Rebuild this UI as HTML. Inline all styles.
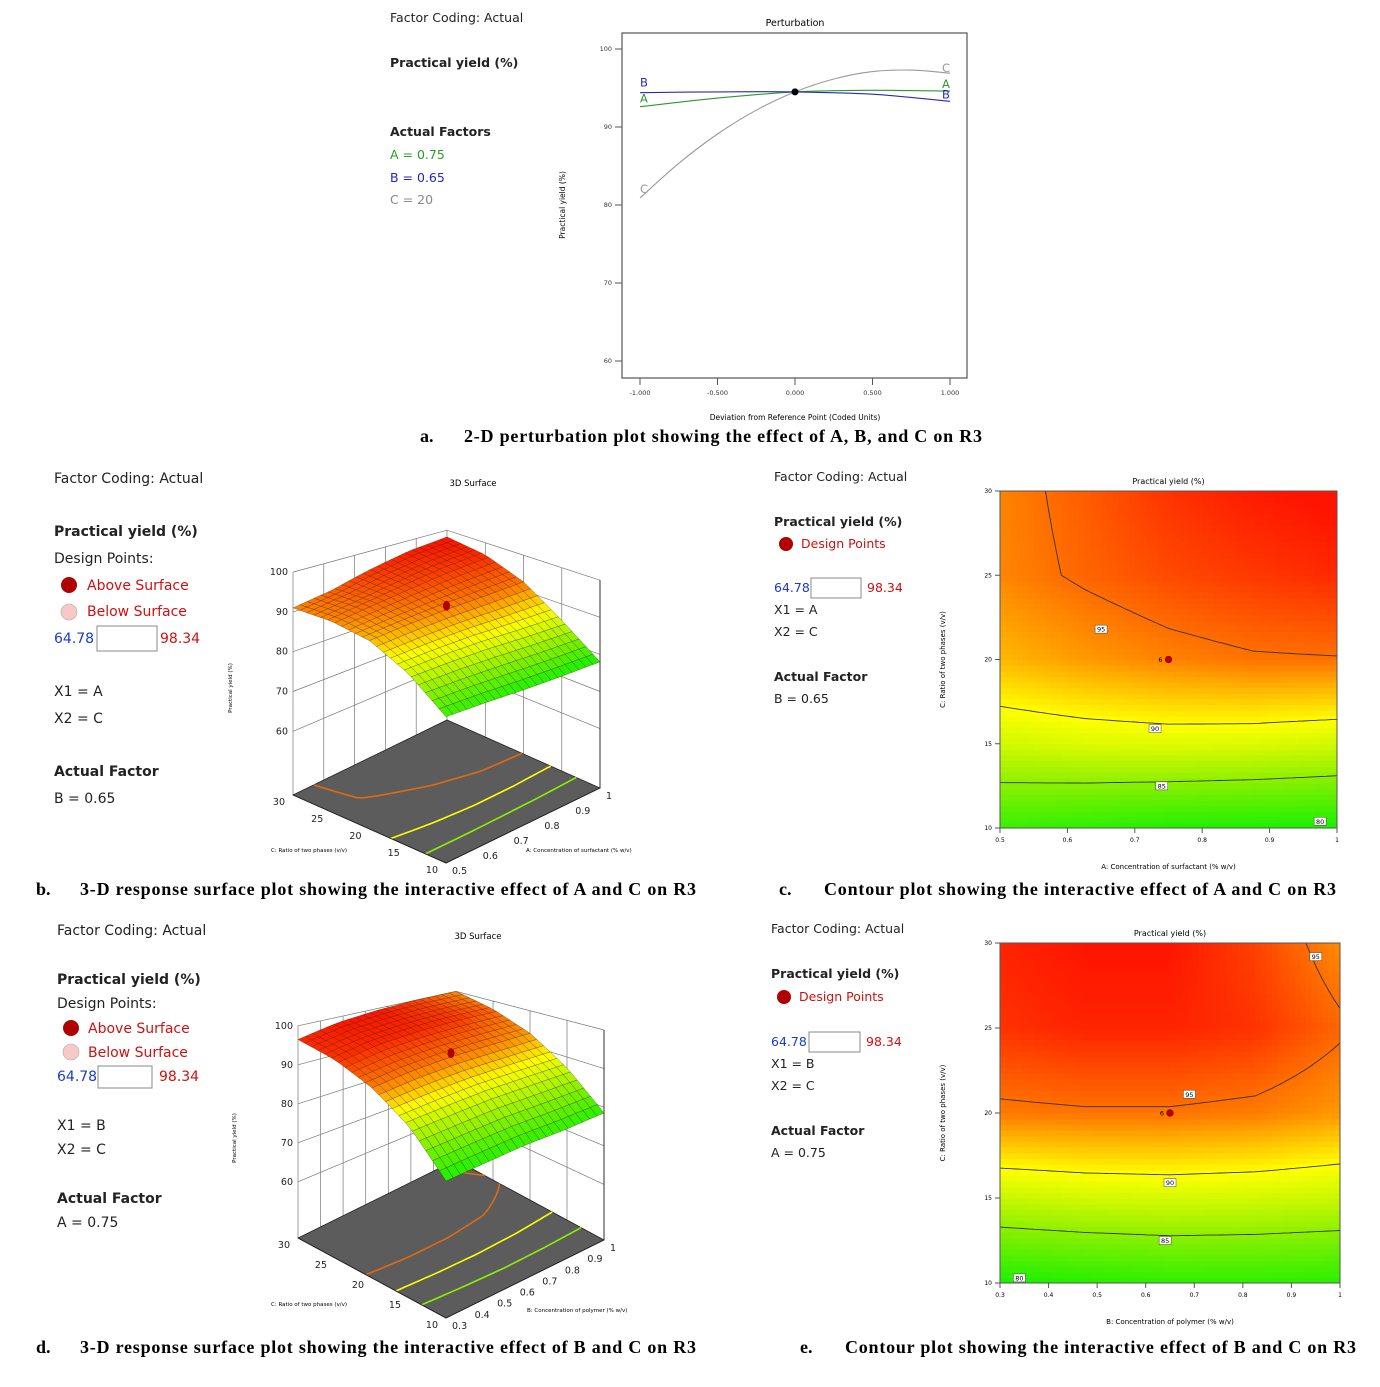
<!DOCTYPE html>
<html><head><meta charset="utf-8"><style>
html,body{margin:0;padding:0;background:#fff;}
svg{display:block;font-family:"DejaVu Sans","Liberation Sans",sans-serif;}
.cap{font-family:"Liberation Serif",serif;font-weight:bold;font-size:18px;}
.t{font-size:14px;fill:#222;}
.ts{font-size:12.5px;fill:#222;}
.b{font-weight:bold;}
.tiny{font-size:6.5px;fill:#333;}
.tk{font-size:9.5px;fill:#222;}
</style></head><body>
<svg id="fig" width="1380" height="1387" viewBox="0 0 1380 1387" xmlns="http://www.w3.org/2000/svg">
<g class="ts">
<text x="390" y="22">Factor Coding: Actual</text>
<text x="390" y="67" class="b">Practical yield (%)</text>
<text x="390" y="136" class="b">Actual Factors</text>
<text x="390" y="159" style="fill:#22a022">A = 0.75</text>
<text x="390" y="182" style="fill:#2525c0">B = 0.65</text>
<text x="390" y="204" style="fill:#888">C = 20</text>
</g>
<g id="pert"></g>
<text x="420" y="442" class="cap">a.</text>
<text x="464" y="442" class="cap" textLength="518">2-D perturbation plot showing the effect of A, B, and C on R3</text>

<g class="t">
<text x="54" y="483">Factor Coding: Actual</text>
<text x="54" y="536" class="b">Practical yield (%)</text>
<text x="54" y="563">Design Points:</text>
<circle cx="69" cy="585" r="8" fill="#b00000"/>
<text x="87" y="590" style="fill:#d01010">Above Surface</text>
<circle cx="69" cy="612" r="8" fill="#f8c8c8" stroke="#aaa" stroke-width="0.6"/>
<text x="87" y="616" style="fill:#d01010">Below Surface</text>
<text x="54" y="643" style="fill:#1a3ad0">64.78</text>
<rect x="97" y="626" width="60" height="25" fill="#fff" stroke="#888"/>
<text x="160" y="643" style="fill:#d01010">98.34</text>
<text x="54" y="696">X1 = A</text>
<text x="54" y="723">X2 = C</text>
<text x="54" y="776" class="b">Actual Factor</text>
<text x="54" y="803">B = 0.65</text>
</g>
<g id="s3db"></g>
<text x="36" y="895" class="cap">b.</text>
<text x="80" y="895" class="cap" textLength="616">3-D response surface plot showing the interactive effect of A and C on R3</text>

<g class="ts">
<text x="774" y="481">Factor Coding: Actual</text>
<text x="774" y="526" class="b">Practical yield (%)</text>
<circle cx="786" cy="544" r="7" fill="#b00000"/>
<text x="801" y="548" style="fill:#d01010">Design Points</text>
<text x="774" y="592" style="fill:#1a3ad0">64.78</text>
<rect x="811" y="578" width="50" height="20" fill="#fff" stroke="#888"/>
<text x="867" y="592" style="fill:#d01010">98.34</text>
<text x="774" y="614">X1 = A</text>
<text x="774" y="636">X2 = C</text>
<text x="774" y="681" class="b">Actual Factor</text>
<text x="774" y="703">B = 0.65</text>
</g>
<g id="contc"></g>
<text x="779" y="895" class="cap">c.</text>
<text x="824" y="895" class="cap" textLength="512">Contour plot showing the interactive effect of A and C on R3</text>

<g class="t">
<text x="57" y="935">Factor Coding: Actual</text>
<text x="57" y="984" class="b">Practical yield (%)</text>
<text x="57" y="1008">Design Points:</text>
<circle cx="71" cy="1028" r="8" fill="#b00000"/>
<text x="88" y="1033" style="fill:#d01010">Above Surface</text>
<circle cx="71" cy="1052" r="8" fill="#f8c8c8" stroke="#aaa" stroke-width="0.6"/>
<text x="88" y="1057" style="fill:#d01010">Below Surface</text>
<text x="57" y="1081" style="fill:#1a3ad0">64.78</text>
<rect x="98" y="1066" width="54" height="22" fill="#fff" stroke="#888"/>
<text x="159" y="1081" style="fill:#d01010">98.34</text>
<text x="57" y="1130">X1 = B</text>
<text x="57" y="1154">X2 = C</text>
<text x="57" y="1203" class="b">Actual Factor</text>
<text x="57" y="1227">A = 0.75</text>
</g>
<g id="s3dd"></g>
<text x="36" y="1353" class="cap">d.</text>
<text x="80" y="1353" class="cap" textLength="616">3-D response surface plot showing the interactive effect of B and C on R3</text>

<g class="ts">
<text x="771" y="933">Factor Coding: Actual</text>
<text x="771" y="978" class="b">Practical yield (%)</text>
<circle cx="784" cy="997" r="7" fill="#b00000"/>
<text x="799" y="1001" style="fill:#d01010">Design Points</text>
<text x="771" y="1046" style="fill:#1a3ad0">64.78</text>
<rect x="809" y="1032" width="51" height="20" fill="#fff" stroke="#888"/>
<text x="866" y="1046" style="fill:#d01010">98.34</text>
<text x="771" y="1068">X1 = B</text>
<text x="771" y="1090">X2 = C</text>
<text x="771" y="1135" class="b">Actual Factor</text>
<text x="771" y="1157">A = 0.75</text>
</g>
<g id="conte"></g>
<text x="800" y="1353" class="cap">e.</text>
<text x="845" y="1353" class="cap" textLength="511">Contour plot showing the interactive effect of B and C on R3</text>
</svg>
<script>
// ---------- data ----------
const pertX = [-1, -0.5, 0, 0.5, 1];
const pertXC = [-1, -0.75, -0.5, -0.25, 0, 0.25, 0.5, 0.75, 1];
const pertA = [92.6, 93.7, 94.5, 94.7, 94.6];
const pertB = [94.4, 94.5, 94.5, 94.2, 93.3];
const pertC = [80.9, 85.35, 89.1, 92.15, 94.5, 96.15, 97.1, 97.3, 96.9];
const pertYTicks = [60, 70, 80, 90, 100];
const pertXTicks = [-1, -0.5, 0, 0.5, 1];
const pertXTickLabels = ["-1.000", "-0.500", "0.000", "0.500", "1.000"];

const cLevels = [10, 15, 20, 25, 30];
const aLevels = [0.5, 0.625, 0.75, 0.875, 1];
const bLevels = [0.3, 0.475, 0.65, 0.825, 1];
const yieldAC = [
  [81.5, 81, 80.5, 80.3, 80.1],
  [88, 88.5, 88.7, 88.5, 88],
  [92.5, 93.5, 94.3, 94.8, 94.9],
  [94.2, 95.3, 96.2, 96.8, 97.3],
  [94.3, 95.6, 97, 97.8, 98.3]
];
const yieldBC = [
  [80.2, 80.6, 81, 81, 80.8],
  [87.5, 88, 88.2, 88, 87.6],
  [94.6, 94.8, 94.8, 94.5, 93.6],
  [97, 97.5, 97.5, 97, 95.3],
  [97.5, 98, 98, 96.5, 94]
];
const surfAC = [
  [78, 78, 77.8, 77.8, 78],
  [85, 85.5, 85.7, 85.5, 85.5],
  [89.5, 90.5, 91.3, 91.8, 92.5],
  [91, 92.5, 94, 95.5, 96.5],
  [91, 92.5, 95, 97, 98]
];
const surfBC = [
  [75, 76, 77, 77.5, 78.5],
  [84, 85, 86, 86.5, 87],
  [90, 91.5, 92.5, 93, 93.5],
  [94, 96, 97, 97.5, 97.5],
  [96.5, 98.5, 99.5, 100, 100]
];
const contourLevels = [80, 85, 90, 95];
const floorLevels = [80, 85, 90, 95];
const labelsAC = [[0.65, 21.8, "95"], [0.73, 15.9, "90"], [0.74, 12.5, "85"], [0.975, 10.4, "80"]];
const labelsBC = [[0.95, 29.2, "95"], [0.69, 21.1, "95"], [0.65, 15.9, "90"], [0.64, 12.5, "85"], [0.34, 10.3, "80"]];
const designAC = [0.75, 20];
const designBC = [0.65, 20];
const zTicks = [60, 70, 80, 90, 100];
const cTicks = [10, 15, 20, 25, 30];
const aTicks = [0.5, 0.6, 0.7, 0.8, 0.9, 1];
const bTicks = [0.3, 0.4, 0.5, 0.6, 0.7, 0.8, 0.9, 1];

// ---------- helpers ----------
const NS = 'http://www.w3.org/2000/svg';
function mk(tag, attrs, parent, text) {
  const e = document.createElementNS(NS, tag);
  for (const k in attrs) e.setAttribute(k, attrs[k]);
  if (text != null) e.textContent = text;
  parent.appendChild(e);
  return e;
}
function lerp(a, b, t) { return a + (b - a) * t; }
function interp(grid, xs, ys, x, y) {
  let i = 0; while (i < xs.length - 2 && x > xs[i + 1]) i++;
  let j = 0; while (j < ys.length - 2 && y > ys[j + 1]) j++;
  const tx = Math.max(0, Math.min(1, (x - xs[i]) / (xs[i + 1] - xs[i])));
  const ty = Math.max(0, Math.min(1, (y - ys[j]) / (ys[j + 1] - ys[j])));
  const v0 = lerp(grid[j][i], grid[j][i + 1], tx), v1 = lerp(grid[j + 1][i], grid[j + 1][i + 1], tx);
  return lerp(v0, v1, ty);
}
const stops = [[76, [0, 225, 0]], [80, [20, 240, 0]], [85, [140, 240, 0]], [90, [255, 255, 0]], [93, [255, 170, 0]], [95.5, [255, 95, 0]], [98, [255, 20, 0]]];
function col(v) {
  if (v <= stops[0][0]) return 'rgb(' + stops[0][1] + ')';
  for (let i = 0; i < stops.length - 1; i++) {
    if (v <= stops[i + 1][0]) {
      const t = (v - stops[i][0]) / (stops[i + 1][0] - stops[i][0]);
      const c = stops[i][1].map((a, k) => Math.round(lerp(a, stops[i + 1][1][k], t)));
      return 'rgb(' + c + ')';
    }
  }
  return 'rgb(' + stops[stops.length - 1][1] + ')';
}
function contourSegs(f, x0, x1, y0, y1, N, level) {
  level += 0.0013;
  const segs = [], dx = (x1 - x0) / N, dy = (y1 - y0) / N, v = [];
  for (let i = 0; i <= N; i++) { v[i] = []; for (let j = 0; j <= N; j++) v[i][j] = f(x0 + i * dx, y0 + j * dy); }
  for (let i = 0; i < N; i++) for (let j = 0; j < N; j++) {
    const cs = [[i, j], [i + 1, j], [i + 1, j + 1], [i, j + 1]];
    const pts = [];
    for (let k = 0; k < 4; k++) {
      const p = cs[k], q = cs[(k + 1) % 4];
      const va = v[p[0]][p[1]], vb = v[q[0]][q[1]];
      if ((va - level) * (vb - level) < 0) {
        const t = (level - va) / (vb - va);
        pts.push([x0 + lerp(p[0], q[0], t) * dx, y0 + lerp(p[1], q[1], t) * dy]);
      }
    }
    if (pts.length >= 2) segs.push([pts[0], pts[1]]);
    if (pts.length === 4) segs.push([pts[2], pts[3]]);
  }
  return segs;
}

// ---------- perturbation ----------
(function () {
  const g = document.getElementById('pert');
  const X = v => 795 + 155 * v, Y = v => 127 - (v - 90) * 7.8;
  const box = mk('rect', { x: 622, y: 33, width: 345, height: 345, fill: 'none', stroke: '#555', 'stroke-width': 1.2 }, g);
  
  
  const tt = mk('text', { x: 795, y: 26, 'text-anchor': 'middle', 'font-size': 9.5 }, g, 'Perturbation');
  
  
  pertYTicks.forEach(v => {
    const l = mk('line', { x1: 615, x2: 622, y1: Y(v), y2: Y(v), stroke: '#555' }, g);
    
    
    const t = mk('text', { x: 612, y: Y(v) + 2, 'text-anchor': 'end', class: 'tiny' }, g, String(v));
    
    
  });
  pertXTicks.forEach((v, i) => {
    const l = mk('line', { x1: X(v), x2: X(v), y1: 378, y2: 385, stroke: '#555' }, g);
    
    
    const t = mk('text', { x: X(v), y: 395, 'text-anchor': 'middle', class: 'tiny' }, g, pertXTickLabels[i]);
    
    
  });
  const xt = mk('text', { x: 795, y: 420, 'text-anchor': 'middle', 'font-size': 7.5 }, g, 'Deviation from Reference Point (Coded Units)');
  
  
  const yt = mk('text', { x: 0, y: 0, 'text-anchor': 'middle', 'font-size': 7.5, transform: 'translate(565,205) rotate(-90)' }, g, 'Practical yield (%)');
  
  
  const series = [['C', pertXC, pertC, '#999'], ['A', pertX, pertA, '#2a9a2a'], ['B', pertX, pertB, '#2a2ab8']];
  series.forEach(s => {
    // Catmull-Rom smoothing through data points
    const pts = s[1].map((x, i) => [X(x), Y(s[2][i])]);
    let d = 'M' + pts[0][0].toFixed(1) + ',' + pts[0][1].toFixed(1);
    for (let i = 0; i < pts.length - 1; i++) {
      const p0 = pts[Math.max(0, i - 1)], p1 = pts[i], p2 = pts[i + 1], p3 = pts[Math.min(pts.length - 1, i + 2)];
      const c1 = [p1[0] + (p2[0] - p0[0]) / 6, p1[1] + (p2[1] - p0[1]) / 6];
      const c2 = [p2[0] - (p3[0] - p1[0]) / 6, p2[1] - (p3[1] - p1[1]) / 6];
      d += 'C' + c1.map(v => v.toFixed(1)) + ' ' + c2.map(v => v.toFixed(1)) + ' ' + p2.map(v => v.toFixed(1));
    }
    const p = mk('path', { d: d, fill: 'none', stroke: s[3], 'stroke-width': 1.1 }, g);
    
    
  });
  const lab = [['B', pertB, '#2a2ab8', -6], ['A', pertA, '#2a9a2a', -4], ['C', pertC, '#999', -5]];
  lab.forEach(s => {
    const t1 = mk('text', { x: 640, y: Y(s[1][0]) + s[3], 'font-size': 11.5, fill: s[2] }, g, s[0]);
    
    
  });
  const rl = [['C', pertC, '#999', -1], ['A', pertA, '#2a9a2a', -3], ['B', pertB, '#2a2ab8', -3]];
  rl.forEach(s => {
    const t = mk('text', { x: 942, y: Y(s[1][s[1].length - 1]) + s[3], 'font-size': 11.5, fill: s[2] }, g, s[0]);
    
    
  });
  const dot = mk('circle', { cx: X(0), cy: Y(pertA[2]), r: 3.5, fill: '#000' }, g);
  
  
})();

// ---------- contour plots ----------
function contourPlot(gid, x0, y0, w, h, xs, grid, xTicks, labels, design, xTitle) {
  const g = document.getElementById(gid);
  const xmin = xs[0], xmax = xs[xs.length - 1];
  const X = v => x0 + (v - xmin) / (xmax - xmin) * w;
  const Y = v => y0 + h - (v - 10) / 20 * h;
  const f = (a, c) => interp(grid, xs, cLevels, a, c);
  const N = 60;
  const cg = mk('g', { 'shape-rendering': 'crispEdges' }, g);
  
  
  for (let i = 0; i < N; i++) for (let j = 0; j < N; j++) {
    const a = xmin + (i + 0.5) / N * (xmax - xmin), c = 10 + (j + 0.5) / N * 20;
    const r = mk('rect', { x: (x0 + i * w / N).toFixed(2), y: (y0 + h - (j + 1) * h / N).toFixed(2), width: (w / N + 0.6).toFixed(2), height: (h / N + 0.6).toFixed(2), fill: col(f(a, c)) }, cg);
    
    
  }
  contourLevels.forEach(L => {
    const segs = contourSegs(f, xmin, xmax, 10, 30, 60, L);
    const d = segs.map(s => 'M' + X(s[0][0]).toFixed(1) + ',' + Y(s[0][1]).toFixed(1) + 'L' + X(s[1][0]).toFixed(1) + ',' + Y(s[1][1]).toFixed(1)).join('');
    const p = mk('path', { d: d, stroke: '#333', 'stroke-width': 0.9, fill: 'none' }, g);
    
    
  });
  labels.forEach(l => {
    const r = mk('rect', { x: X(l[0]) - 6, y: Y(l[1]) - 4, width: 12, height: 8, fill: '#fff', stroke: '#444', 'stroke-width': 0.5 }, g);
    
    
    const t = mk('text', { x: X(l[0]), y: Y(l[1]) + 2.5, 'text-anchor': 'middle', 'font-size': 6.5 }, g, l[2]);
    
    
  });
  const dp = mk('circle', { cx: X(design[0]), cy: Y(design[1]), r: 3.3, fill: '#c00000', stroke: '#600', 'stroke-width': 0.6 }, g);
  
  
  const dl = mk('text', { x: X(design[0]) - 6, y: Y(design[1]) + 2.5, 'text-anchor': 'end', 'font-size': 6.5 }, g, '6');
  
  
  const fr = mk('rect', { x: x0, y: y0, width: w, height: h, fill: 'none', stroke: '#555', 'stroke-width': 1 }, g);
  
  
  xTicks.forEach(v => {
    const l = mk('line', { x1: X(v), x2: X(v), y1: y0 + h, y2: y0 + h + 5, stroke: '#555' }, g);
    
    
    const t = mk('text', { x: X(v), y: y0 + h + 14, 'text-anchor': 'middle', 'font-size': 6 }, g, String(v));
    
    
  });
  cTicks.forEach(v => {
    const l = mk('line', { x1: x0 - 5, x2: x0, y1: Y(v), y2: Y(v), stroke: '#555' }, g);
    
    
    const t = mk('text', { x: x0 - 8, y: Y(v) + 2, 'text-anchor': 'end', 'font-size': 6 }, g, String(v));
    
    
  });
  const tt = mk('text', { x: x0 + w / 2, y: y0 - 7, 'text-anchor': 'middle', 'font-size': 8 }, g, 'Practical yield (%)');
  
  
  const xt = mk('text', { x: x0 + w / 2, y: y0 + h + 41, 'text-anchor': 'middle', 'font-size': 7 }, g, xTitle);
  
  
  const yt = mk('text', { x: 0, y: 0, 'text-anchor': 'middle', 'font-size': 7, transform: 'translate(' + (x0 - 55) + ',' + (y0 + h / 2) + ') rotate(-90)' }, g, 'C: Ratio of two phases (v/v)');
  
  
}
contourPlot('contc', 1000, 491, 337, 337, aLevels, yieldAC, aTicks, labelsAC, designAC, 'A: Concentration of surfactant (% w/v)');
contourPlot('conte', 1000, 943, 340, 340, bLevels, yieldBC, bTicks, labelsBC, designBC, 'B: Concentration of polymer (% w/v)');

// ---------- 3D surfaces ----------
function surface3D(gid, cfg) {
  const g = document.getElementById(gid);
  const xs = cfg.xs, xmin = xs[0], xmax = xs[xs.length - 1];
  const P = (a, c, z) => {
    const k = cfg.kf - cfg.ka * a - cfg.kc * c;
    return [cfg.front[0] + a * cfg.ea[0] + c * cfg.ec[0], cfg.front[1] + a * cfg.ea[1] + c * cfg.ec[1] - (z - cfg.floorZ) * k];
  };
  const an = v => (v - xmin) / (xmax - xmin), cn = v => (v - 10) / 20;
  const pt = p => p[0].toFixed(1) + ',' + p[1].toFixed(1);
  const wall = [P(0, 1, cfg.floorZ), P(1, 1, cfg.floorZ), P(1, 0, cfg.floorZ), P(1, 0, 100), P(1, 1, 100), P(0, 1, 100)];
  const wp = mk('polygon', { points: wall.map(pt).join(' '), fill: '#fff', stroke: 'none' }, g);
  
  
  let d = '';
  zTicks.forEach(z => { d += 'M' + pt(P(0, 1, z)) + 'L' + pt(P(1, 1, z)) + 'L' + pt(P(1, 0, z)); });
  cfg.xTicks.forEach(v => { d += 'M' + pt(P(an(v), 1, cfg.floorZ)) + 'L' + pt(P(an(v), 1, 100)); });
  cTicks.forEach(v => { d += 'M' + pt(P(1, cn(v), cfg.floorZ)) + 'L' + pt(P(1, cn(v), 100)); });
  d += 'M' + pt(P(0, 1, cfg.floorZ)) + 'L' + pt(P(0, 1, 100));
  const gl = mk('path', { d: d, stroke: '#777', 'stroke-width': 0.7, fill: 'none' }, g);
  
  
  const fl = mk('polygon', { points: [P(0, 0, cfg.floorZ), P(1, 0, cfg.floorZ), P(1, 1, cfg.floorZ), P(0, 1, cfg.floorZ)].map(pt).join(' '), fill: '#5c5c5c', stroke: '#222', 'stroke-width': 0.8 }, g);
  
  
  const fmodel = (a, c) => interp(cfg.contourGrid, xs, cLevels, a, c);
  floorLevels.forEach(L => {
    const segs = contourSegs(fmodel, xmin, xmax, 10, 30, 50, L);
    const dd = segs.map(s => 'M' + pt(P(an(s[0][0]), cn(s[0][1]), cfg.floorZ)) + 'L' + pt(P(an(s[1][0]), cn(s[1][1]), cfg.floorZ))).join('');
    const p = mk('path', { d: dd, stroke: L >= 95 ? '#e06a10' : col(L), 'stroke-width': 1.6, fill: 'none' }, g);
    
    
  });
  const f = (a, c) => interp(cfg.grid, xs, cLevels, a, c);
  const N = 22, quads = [];
  for (let i = 0; i < N; i++) for (let j = 0; j < N; j++) {
    const a0 = i / N, a1 = (i + 1) / N, c0 = j / N, c1 = (j + 1) / N;
    const vals = [[a0, c0], [a1, c0], [a1, c1], [a0, c1]].map(q => [q[0], q[1], f(xmin + q[0] * (xmax - xmin), 10 + q[1] * 20)]);
    const cv = fmodel(xmin + (i + 0.5) / N * (xmax - xmin), 10 + (j + 0.5) / N * 20);
    quads.push({ depth: a0 + a1 + c0 + c1, vals: vals, cv: cv });
  }
  quads.sort((p, q) => q.depth - p.depth);
  const sg = mk('g', {}, g);
  
  
  quads.forEach(q => {
    const poly = mk('polygon', { points: q.vals.map(v => pt(P(v[0], v[1], v[2]))).join(' '), fill: col(q.cv), stroke: 'rgba(40,40,0,0.55)', 'stroke-width': 0.5 }, sg);
    
    
  });
  const da = an(cfg.design[0]), dc = cn(cfg.design[1]);
  const dpp = P(da, dc, f(cfg.design[0], cfg.design[1]) + 1);
  const dp = mk('ellipse', { cx: dpp[0], cy: dpp[1], rx: 3.5, ry: 5, fill: '#b00000' }, g);
  
  
  const fe = mk('path', { d: 'M' + pt(P(0, 1, cfg.floorZ)) + 'L' + pt(P(0, 0, cfg.floorZ)) + 'L' + pt(P(1, 0, cfg.floorZ)) + 'M' + pt(P(1, 0, cfg.floorZ)) + 'L' + pt(P(1, 0, 100)), stroke: '#222', 'stroke-width': 0.9, fill: 'none' }, g);
  
  
  zTicks.forEach(z => {
    const p = P(0, 1, z);
    const t = mk('text', { x: p[0] - 5, y: p[1] + 3, 'text-anchor': 'end', class: 'tk' }, g, String(z));
    
    
  });
  cTicks.forEach(v => {
    const p = P(0, cn(v), cfg.floorZ);
    const t = mk('text', { x: p[0] - 8, y: p[1] + 10, 'text-anchor': 'end', class: 'tk' }, g, String(v));
    
    
  });
  cfg.xTicks.forEach(v => {
    const p = P(an(v), 0, cfg.floorZ);
    const t = mk('text', { x: p[0] + 6, y: p[1] + 11, class: 'tk' }, g, String(v));
    
    
  });
  const tt = mk('text', { x: cfg.title[0], y: cfg.title[1], 'text-anchor': 'middle', 'font-size': 8.5 }, g, '3D Surface');
  
  
  const ct = mk('text', { x: cfg.cTitle[0], y: cfg.cTitle[1], 'font-size': 5.5 }, g, 'C: Ratio of two phases (v/v)');
  
  
  const xt = mk('text', { x: cfg.xTitle[0], y: cfg.xTitle[1], 'font-size': 5.5 }, g, cfg.xTitleText);
  
  
  const zt = mk('text', { x: 0, y: 0, 'text-anchor': 'middle', 'font-size': 5.5, transform: 'translate(' + cfg.zTitle[0] + ',' + cfg.zTitle[1] + ') rotate(-90)' }, g, 'Practical yield (%)');
  
  
}
surface3D('s3db', {
  front: [446, 863], ea: [154, -75], ec: [-153, -68], floorZ: 44, kf: 4.3, ka: 0.59, kc: 0.32,
  xs: aLevels, grid: surfAC, contourGrid: yieldAC, xTicks: aTicks, design: designAC,
  title: [473, 486], cTitle: [271, 852], xTitle: [526, 852], xTitleText: 'A: Concentration of surfactant (% w/v)', zTitle: [232, 688]
});
surface3D('s3dd', {
  front: [446, 1318], ea: [158, -78], ec: [-148, -80], floorZ: 45.6, kf: 4.66, ka: 0.8, kc: 0.76,
  xs: bLevels, grid: surfBC, contourGrid: yieldBC, xTicks: bTicks, design: designBC,
  title: [478, 939], cTitle: [271, 1306], xTitle: [527, 1312], xTitleText: 'B: Concentration of polymer (% w/v)', zTitle: [236, 1138]
});
</script>
</body></html>
